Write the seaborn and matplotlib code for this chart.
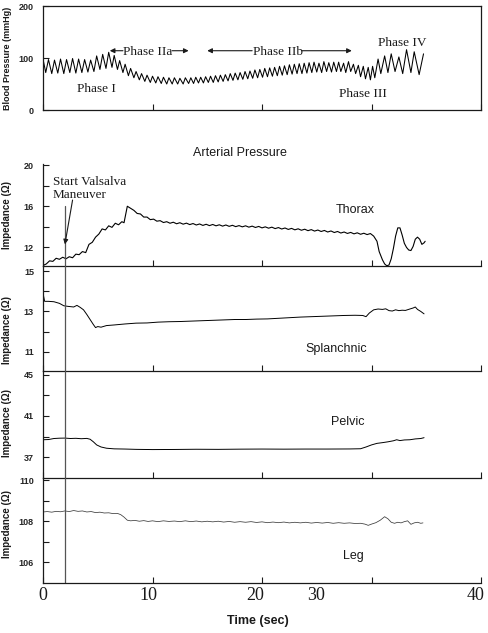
#Valsalva maneuver figure: arterial pressure trace with thorax/splanchnic/pelvic/leg impedance traces
import numpy as np
import pandas as pd
import matplotlib
matplotlib.use('Agg')
import matplotlib.pyplot as plt
import seaborn as sns

# Arterial pressure (mmHg), zigzag vertices
bp_time = [0.0, 0.25, 0.5, 0.8, 1.05, 1.35, 1.6, 1.9,
           2.15, 2.45, 2.7, 3.0, 3.25, 3.55, 3.8, 4.1,
           4.35, 4.65, 4.9, 5.2, 5.45, 5.75, 6.0, 6.3,
           6.5, 6.8,
           7.0, 7.3, 7.5, 7.8, 8.0, 8.3, 8.5, 8.8,
           9.0, 9.3, 9.5, 9.8, 10.0, 10.3, 10.5, 10.8,
           11.0, 11.3, 11.5, 11.8, 12.0, 12.3, 12.5, 12.8,
           13.0, 13.3,
           13.5, 13.75, 13.95, 14.2, 14.4, 14.65, 14.85, 15.1,
           15.3, 15.55, 15.75, 16.0, 16.2, 16.45, 16.65, 16.9,
           17.1, 17.35, 17.55, 17.8, 18.0, 18.25, 18.45, 18.7,
           18.9, 19.15, 19.35, 19.6, 19.8, 20.05, 20.25, 20.5,
           20.7, 20.95, 21.15, 21.4, 21.6, 21.85, 22.05, 22.3,
           22.5, 22.75, 22.95, 23.2, 23.4, 23.65, 23.85, 24.1,
           24.3, 24.55, 24.75, 25.0, 25.2, 25.45, 25.65, 25.9,
           26.1, 26.35, 26.55, 26.8,
           27.0, 27.2, 27.45, 27.65, 27.9, 28.1, 28.35, 28.55,
           28.8, 29.0, 29.25, 29.45, 29.7, 29.9, 30.1, 30.3,
           30.6, 30.85, 31.2, 31.5, 31.8, 32.15, 32.5, 32.85,
           33.2, 33.6, 33.9, 34.35, 34.75]
bp_value = [98, 72, 97, 70, 96, 71, 98, 70,
            97, 72, 99, 71, 98, 72, 97, 73,
            96, 74, 104, 78, 107, 80, 111, 82,
            105, 78,
            95, 72, 88, 66, 80, 62, 74, 58,
            70, 55, 67, 53, 65, 52, 64, 51,
            63, 50, 62, 50, 62, 50, 61, 50,
            62, 51,
            62, 51, 63, 52, 63, 52, 64, 53,
            65, 53, 66, 54, 67, 55, 68, 56,
            70, 57, 71, 58, 72, 59, 74, 60,
            75, 61, 77, 62, 78, 63, 80, 64,
            81, 65, 82, 66, 84, 67, 85, 68,
            87, 69, 88, 70, 89, 70, 90, 71,
            91, 72, 92, 73, 90, 72, 93, 74,
            91, 73, 92, 74,
            92, 74, 90, 72, 93, 74, 88, 70,
            86, 64, 84, 60, 82, 58, 84, 62,
            98, 70, 104, 72, 108, 74, 102, 70,
            116, 72, 112, 68, 108]

# Thorax impedance (Ohm)
thorax_time = [0.0, 0.3, 0.6, 0.9, 1.2, 1.5, 1.8, 2.1, 2.4, 2.7,
               3.0, 3.3, 3.6, 3.9, 4.2, 4.5, 4.8, 5.1, 5.4, 5.7,
               6.0, 6.3, 6.6, 6.9, 7.2, 7.4, 7.7, 8.0, 8.3, 8.6,
               8.9, 9.2, 9.5, 9.8, 10.1, 10.4, 10.7, 11.0, 11.3, 11.6,
               11.9, 12.2, 12.5, 12.8, 13.1, 13.4, 13.7, 14.0, 14.3, 14.6,
               14.9, 15.2, 15.5, 15.8, 16.1, 16.4, 16.7, 17.0, 17.3, 17.6,
               17.9, 18.2, 18.5, 18.8, 19.1, 19.4, 19.7, 20.0, 20.3, 20.6,
               20.9, 21.2, 21.5, 21.8, 22.1, 22.4, 22.7, 23.0, 23.3, 23.6,
               23.9, 24.2, 24.5, 24.8, 25.1, 25.4, 25.7, 26.0, 26.3, 26.6,
               26.9, 27.2, 27.5, 27.8, 28.1, 28.4, 28.7, 29.0, 29.3, 29.6,
               29.9, 30.2, 30.5, 30.7, 31.0, 31.2, 31.4, 31.6, 31.8, 32.0,
               32.2, 32.4, 32.6, 32.8, 33.0, 33.2, 33.4, 33.6, 33.8, 34.0,
               34.2, 34.4, 34.6, 34.8, 34.9]
thorax_value = [10.25, 10.4, 10.7, 10.65, 10.95, 10.85, 11.05, 10.9, 11.1, 11.0,
                11.35, 11.3, 11.6, 11.5, 12.3, 12.5, 13.0, 13.3, 13.8, 13.7,
                14.1, 13.95, 14.35, 14.2, 14.5, 14.4, 16.0, 15.8, 15.6, 15.3,
                15.25, 14.95, 14.95, 14.7, 14.75, 14.55, 14.6, 14.42, 14.5, 14.35,
                14.45, 14.3, 14.4, 14.26, 14.36, 14.22, 14.32, 14.18, 14.28, 14.14,
                14.25, 14.12, 14.23, 14.1, 14.2, 14.07, 14.18, 14.05, 14.15, 14.02,
                14.12, 14.0, 14.1, 13.97, 14.07, 13.94, 14.04, 13.9, 14.0, 13.87,
                13.97, 13.83, 13.93, 13.79, 13.89, 13.75, 13.85, 13.71, 13.81, 13.67,
                13.77, 13.63, 13.73, 13.59, 13.69, 13.55, 13.65, 13.5, 13.6, 13.45,
                13.55, 13.4, 13.5, 13.36, 13.46, 13.32, 13.42, 13.28, 13.38, 13.25,
                13.35, 13.1, 12.6, 11.6, 10.8, 10.4, 10.22, 10.3, 10.9, 11.9,
                13.1, 13.9, 13.9, 13.2, 12.4, 12.0, 11.75, 11.7, 12.1, 12.8,
                13.0, 12.8, 12.3, 12.45, 12.6]

# Splanchnic impedance (Ohm)
splanchnic_time = [0.0, 0.15, 0.5, 1.0, 1.5, 1.9, 2.3, 2.8, 3.1, 3.4,
                   3.7, 4.0, 4.3, 4.6, 4.8, 5.0, 5.3, 5.8, 6.5, 7.5,
                   8.5, 9.5, 10.5, 11.5, 12.5, 13.5, 14.5, 15.5, 16.5, 17.5,
                   18.5, 19.5, 20.5, 21.5, 22.5, 23.5, 24.5, 25.5, 26.5, 27.5,
                   28.5, 29.2, 29.5, 29.8, 30.2, 30.6, 31.0, 31.3, 31.6, 31.9,
                   32.2, 32.5, 32.8, 33.1, 33.5, 33.8, 34.0, 34.2, 34.5, 34.8]
splanchnic_value = [13.9, 13.5, 13.5, 13.48, 13.4, 13.28, 13.25, 13.22, 13.3, 13.2,
                    13.08, 12.85, 12.6, 12.35, 12.2, 12.25, 12.22, 12.3, 12.33, 12.38,
                    12.42, 12.43, 12.47, 12.49, 12.5, 12.52, 12.54, 12.56, 12.58, 12.6,
                    12.6, 12.62, 12.63, 12.66, 12.69, 12.72, 12.74, 12.76, 12.78, 12.8,
                    12.81, 12.8, 12.74, 12.92, 13.08, 13.12, 13.1, 13.13, 13.04, 13.02,
                    13.08, 13.04, 13.06, 13.05, 13.12, 13.17, 13.22, 13.1, 13.0, 12.88]

# Pelvic impedance (Ohm)
pelvic_time = [0.0, 0.5, 1.0, 1.5, 2.0, 2.5, 3.0, 3.5, 4.0, 4.3,
               4.6, 4.9, 5.3, 5.8, 6.5, 7.5, 8.5, 10.0, 12.0, 14.0,
               16.0, 18.0, 20.0, 22.0, 24.0, 26.0, 28.0, 29.0, 29.5, 30.0,
               30.5, 31.0, 31.5, 32.0, 32.3, 32.6, 33.0, 33.5, 34.0, 34.5,
               34.8]
pelvic_value = [38.7, 38.72, 38.82, 38.85, 38.86, 38.82, 38.84, 38.8, 38.83, 38.75,
                38.5, 38.2, 38.0, 37.88, 37.82, 37.8, 37.77, 37.75, 37.76, 37.78,
                37.77, 37.79, 37.8, 37.79, 37.8, 37.8, 37.81, 37.83, 38.0, 38.2,
                38.35, 38.42, 38.5, 38.6, 38.7, 38.62, 38.68, 38.7, 38.78, 38.82,
                38.9]

# Leg impedance (Ohm)
leg_time = [0.0, 0.4, 0.8, 1.2, 1.6, 2.0, 2.4, 2.8, 3.2, 3.6,
            4.0, 4.4, 4.8, 5.2, 5.6, 6.0, 6.4, 6.8, 7.1, 7.4,
            7.7, 8.0, 8.4, 8.8, 9.2, 9.6, 10.0, 10.5, 11.0, 11.5,
            12.0, 12.5, 13.0, 13.5, 14.0, 14.5, 15.0, 15.5, 16.0, 16.5,
            17.0, 17.5, 18.0, 18.5, 19.0, 19.5, 20.0, 20.5, 21.0, 21.5,
            22.0, 22.5, 23.0, 23.5, 24.0, 24.5, 25.0, 25.5, 26.0, 26.5,
            27.0, 27.5, 28.0, 28.5, 29.0, 29.4, 29.7, 30.0, 30.4, 30.8,
            31.2, 31.5, 31.8, 32.1, 32.4, 32.7, 33.0, 33.3, 33.6, 33.9,
            34.2, 34.5, 34.7]
leg_value = [108.45, 108.47, 108.44, 108.48, 108.46, 108.5, 108.47, 108.52, 108.48, 108.5,
             108.45, 108.47, 108.42, 108.44, 108.4, 108.41, 108.37, 108.38, 108.32, 108.2,
             108.05, 108.02, 108.04, 108.0, 108.03, 107.99, 108.02, 107.98, 108.02, 107.99,
             108.01, 107.98, 108.02, 107.98, 108.01, 107.97, 108.0, 107.97, 108.0, 107.96,
             107.99, 107.95, 107.98, 107.95, 107.98, 107.94, 107.97, 107.93, 107.96, 107.93,
             107.96, 107.92, 107.95, 107.92, 107.95, 107.91, 107.94, 107.91, 107.94, 107.9,
             107.93, 107.9, 107.92, 107.89, 107.9, 107.86, 107.8, 107.86, 107.93, 108.05,
             108.22, 108.12, 107.95, 107.9, 107.95, 107.92, 107.98, 108.02, 107.85, 107.92,
             107.95, 107.9, 107.92]

valsalva_start = 2.0
x_ticks = [0, 10, 20, 30, 40]
x_tick_labels = ['0', '10', '20', '30', '40']
x_tick_label_pos = [0, 9.6, 19.4, 24.9, 39.5]

sns.set_style('ticks')
plt.rcParams['font.family'] = ['Liberation Sans', 'DejaVu Sans']
serif = ['Liberation Serif', 'DejaVu Serif']
ink = '#1a1a1a'

fig = plt.figure(figsize=(4.89, 6.33), dpi=100)
W, H = 489, 633
x0, x1 = 43, 481

def add_panel(top, bottom):
    ax = fig.add_axes([x0 / W, 1 - bottom / H, (x1 - x0) / W, (bottom - top) / H])
    ax.set_facecolor('none')
    return ax

def style_axis(ax, ylim, major, minor, box=False):
    ax.set_xlim(0, 40)
    ax.set_ylim(*ylim)
    ax.set_xticks(x_ticks)
    ax.set_xticklabels([])
    ax.set_yticks(major)
    ax.set_yticklabels([str(v) for v in major], fontweight='bold', fontsize=6.5)
    if minor:
        ax.set_yticks(minor, minor=True)
    ax.tick_params(which='both', direction='in', length=4, width=0.8, color=ink, pad=6.5)
    ax.set_xlabel('')
    ax.set_ylabel('')
    for side in ['left', 'bottom', 'top', 'right']:
        ax.spines[side].set_color(ink)
        ax.spines[side].set_linewidth(0.9)
        ax.spines[side].set_zorder(5)
    if not box:
        ax.spines['top'].set_visible(False)
        ax.spines['right'].set_visible(False)

## Blood pressure panel
ax_bp = add_panel(6, 110)
sns.lineplot(x=bp_time, y=bp_value, ax=ax_bp, color='black', linewidth=0.75,
             estimator=None, sort=False, legend=False)
style_axis(ax_bp, (0, 200), [0, 100, 200], None, box=True)

phase_font = dict(family=serif, fontsize=9.5, color=ink, ha='center', va='center')
ax_bp.text(4.9, 40, 'Phase I', **phase_font)
ax_bp.text(9.6, 112, 'Phase IIa', **phase_font)
ax_bp.text(21.5, 112, 'Phase IIb', **phase_font)
ax_bp.text(29.2, 31, 'Phase III', **phase_font)
ax_bp.text(32.8, 129, 'Phase IV', **phase_font)
arrow = dict(arrowstyle='-|>', color=ink, lw=0.8, mutation_scale=7, shrinkA=0, shrinkB=0)
ax_bp.annotate('', xy=(6.1, 114), xytext=(7.3, 114), arrowprops=arrow)
ax_bp.annotate('', xy=(13.3, 114), xytext=(11.8, 114), arrowprops=arrow)
ax_bp.annotate('', xy=(15.0, 114), xytext=(19.1, 114), arrowprops=arrow)
ax_bp.annotate('', xy=(28.2, 114), xytext=(23.6, 114), arrowprops=arrow)

fig.text(240 / W, 1 - 153 / H, 'Arterial Pressure', fontsize=9, color=ink, ha='center', va='center')

## Impedance panels
ax_th = add_panel(164, 266)
ax_sp = add_panel(266, 371)
ax_pe = add_panel(371, 478)
ax_lg = add_panel(478, 583)

sns.lineplot(x=thorax_time, y=thorax_value, ax=ax_th, color='black', linewidth=0.8,
             estimator=None, sort=False, legend=False)
sns.lineplot(x=splanchnic_time, y=splanchnic_value, ax=ax_sp, color='black', linewidth=0.7,
             estimator=None, sort=False, legend=False)
sns.lineplot(x=pelvic_time, y=pelvic_value, ax=ax_pe, color='black', linewidth=0.7,
             estimator=None, sort=False, legend=False)
sns.lineplot(x=leg_time, y=leg_value, ax=ax_lg, color='#3a3a3a', linewidth=0.55,
             estimator=None, sort=False, legend=False)

style_axis(ax_th, (10.2, 20.1), [12, 16, 20], [14, 18])
style_axis(ax_sp, (10.05, 15.25), [11, 13, 15], [12, 14])
style_axis(ax_pe, (35.0, 45.35), [37, 41, 45], [39, 43])
style_axis(ax_lg, (105.0, 110.1), [106, 108, 110], [107, 109])

label_font = dict(fontsize=9, color=ink, ha='center', va='center')
ax_th.text(28.5, 15.6, 'Thorax', **label_font)
ax_sp.text(26.8, 11.15, 'Splanchnic', **label_font)
ax_pe.text(27.8, 40.4, 'Pelvic', **label_font)
ax_lg.text(28.3, 106.3, 'Leg', **label_font)

# Start of the Valsalva maneuver
line_color = '#555555'
th_lo, th_hi = ax_th.get_ylim()
ax_th.axvline(valsalva_start, ymin=0, ymax=(16.0 - th_lo) / (th_hi - th_lo), color=line_color, lw=0.9)
for ax in [ax_sp, ax_pe, ax_lg]:
    ax.axvline(valsalva_start, color=line_color, lw=0.9)
ax_th.text(0.9, 17.75, 'Start Valsalva\nManeuver', family=serif, fontsize=9.5, color=ink,
           ha='left', va='center', linespacing=1.15)
ax_th.annotate('', xy=(valsalva_start, 12.3), xytext=(2.7, 16.6),
               arrowprops=dict(arrowstyle='-|>', color=ink, lw=0.8, mutation_scale=7, shrinkA=0, shrinkB=0))

# Shared time axis labels under the leg panel
for pos, lab in zip(x_tick_label_pos, x_tick_labels):
    ax_lg.text(pos, -0.115, lab, transform=ax_lg.get_xaxis_transform(), family=serif,
               fontsize=13, color=ink, ha='center', va='center')
fig.text(258 / W, 1 - 621 / H, 'Time (sec)', fontsize=9, fontweight='bold', color=ink,
         ha='center', va='center')

# Y axis titles
fig.text(7.5 / W, 1 - 58 / H, 'Blood Pressure (mmHg)', fontsize=6.5, fontweight='bold',
         rotation=90, color=ink, ha='center', va='center')
for yc in [215, 330, 423, 524]:
    fig.text(7.5 / W, 1 - yc / H, 'Impedance (\u03a9)', fontsize=7, fontweight='bold',
             rotation=90, color=ink, ha='center', va='center')

plt.savefig('out.png', dpi=100)
